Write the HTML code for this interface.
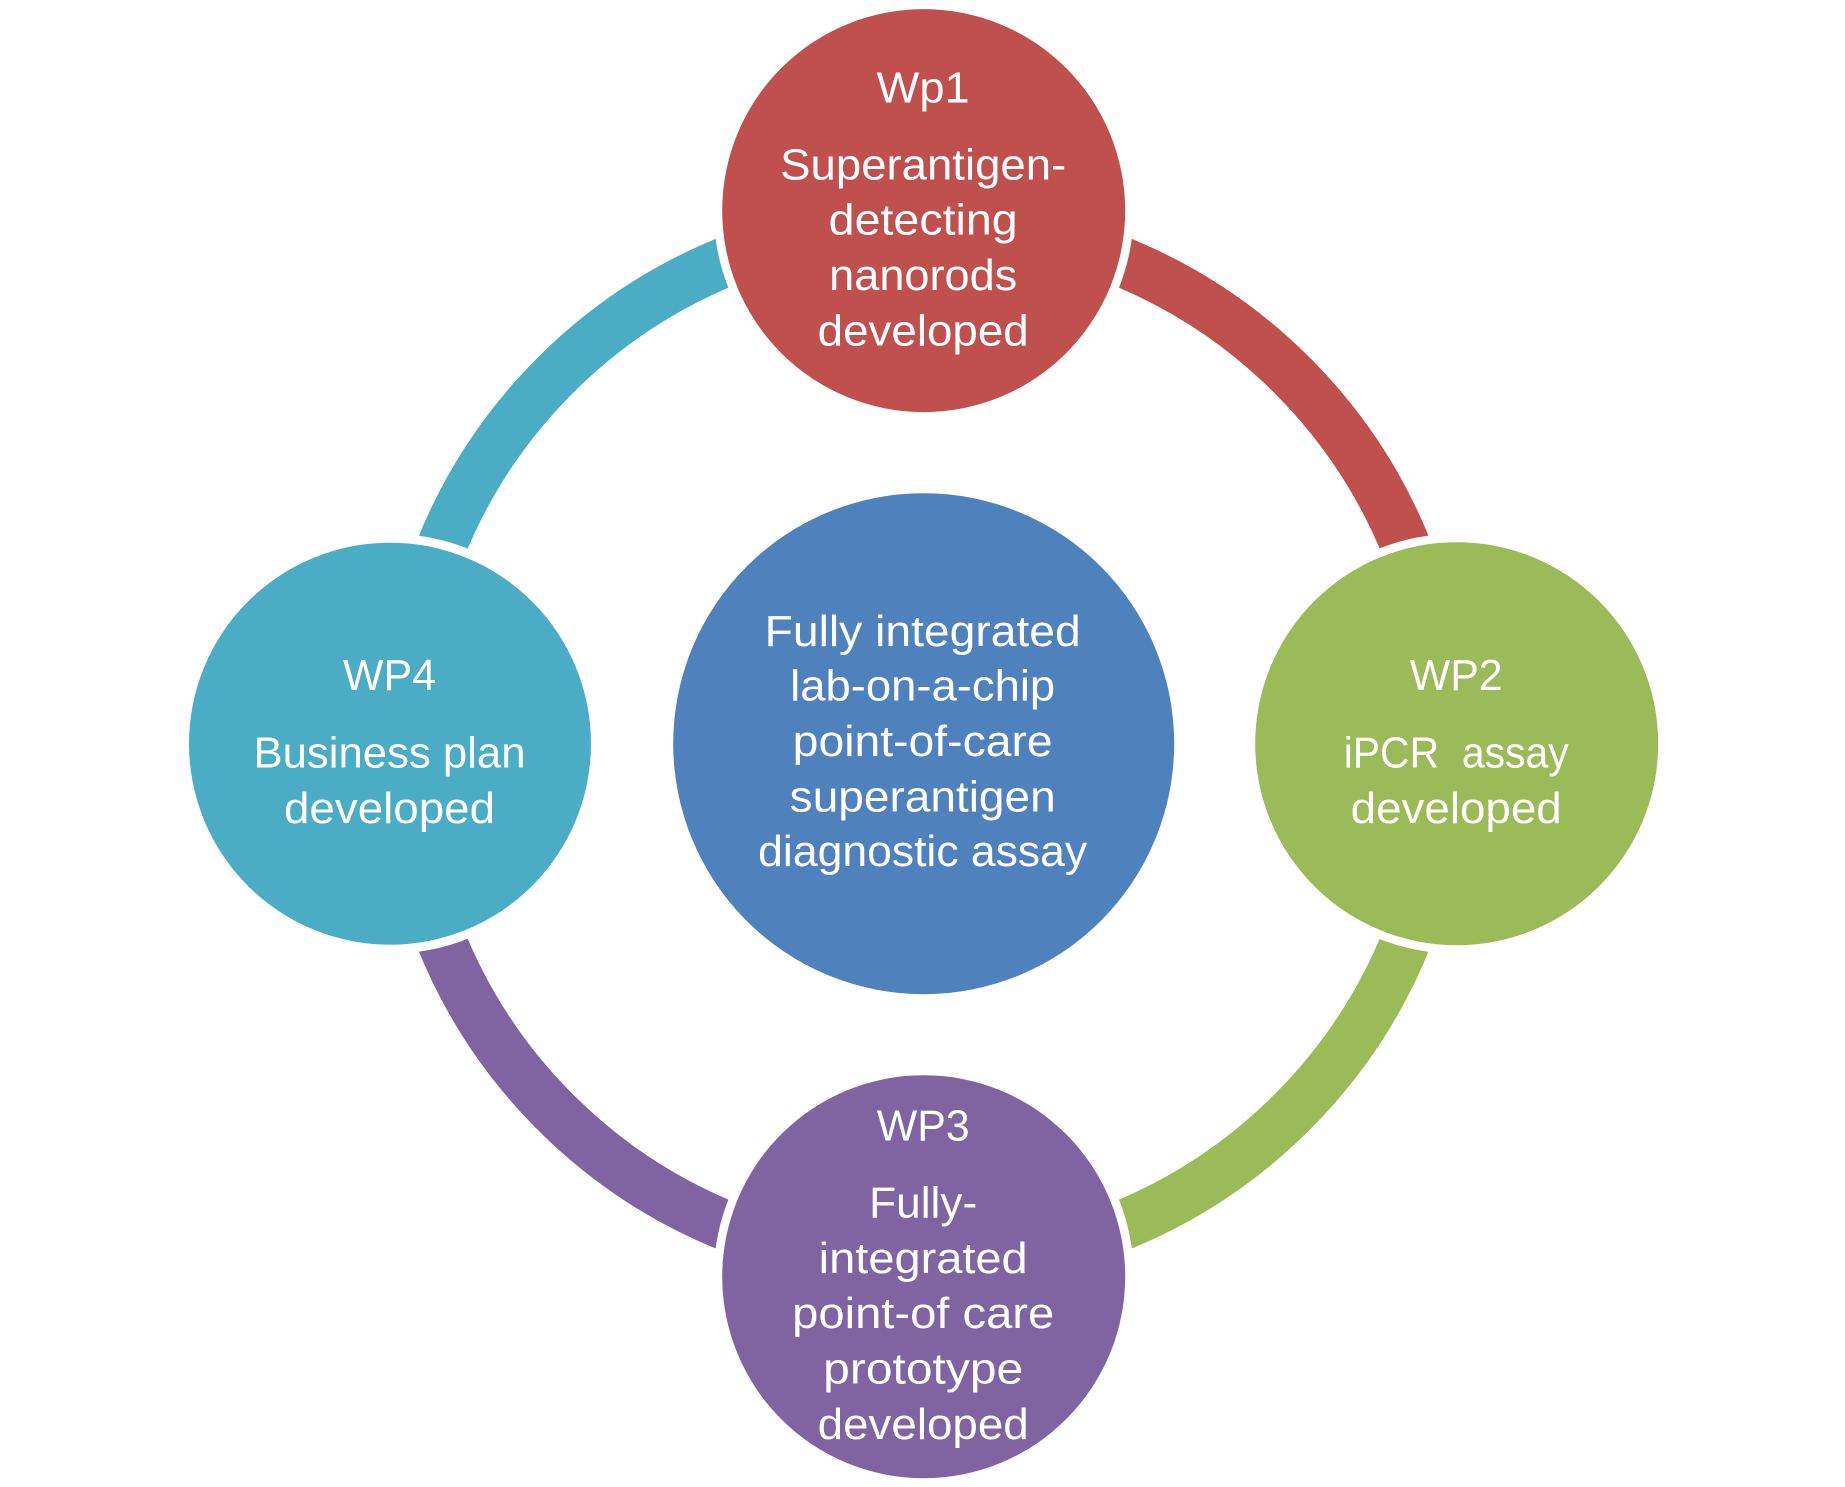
<!DOCTYPE html>
<html><head><meta charset="utf-8">
<style>html,body{margin:0;padding:0;background:#fff;width:1845px;height:1487px;overflow:hidden}svg{display:block}
text{font-family:"Liberation Sans",sans-serif;font-size:44px;fill:#fff;text-anchor:middle}</style></head>
<body>
<svg width="1845" height="1487" viewBox="0 0 1845 1487" xmlns="http://www.w3.org/2000/svg">
<rect width="1845" height="1487" fill="#fff"/>
<g fill="none" stroke-width="50">
<path d="M923.7 222.7A521 521 0 0 1 1444.7 743.7" stroke="#C0504D"/>
<path d="M1444.7 743.7A521 521 0 0 1 923.7 1264.7" stroke="#9BBB59"/>
<path d="M923.7 1264.7A521 521 0 0 1 402.7 743.7" stroke="#8064A2"/>
<path d="M402.7 743.7A521 521 0 0 1 923.7 222.7" stroke="#4BACC6"/>
</g>
<g fill="#fff">
<circle cx="923.7" cy="210.6" r="210"/><circle cx="1456.7" cy="743.7" r="210"/><circle cx="923.7" cy="1276.7" r="210"/><circle cx="390" cy="743.7" r="210"/>
</g>
<circle cx="923.7" cy="743.7" r="250.5" fill="#4F81BD"/>
<circle cx="923.7" cy="210.6" r="201.5" fill="#C0504D"/>
<circle cx="1456.7" cy="743.7" r="201.5" fill="#9BBB59"/>
<circle cx="923.7" cy="1276.7" r="201.5" fill="#8064A2"/>
<circle cx="390" cy="743.7" r="201" fill="#4BACC6"/>

<text x="923.2" y="102.5" textLength="93" lengthAdjust="spacingAndGlyphs">Wp1</text>
<text x="923.2" y="179.5" textLength="286" lengthAdjust="spacingAndGlyphs">Superantigen-</text>
<text x="923.2" y="234.5" textLength="189" lengthAdjust="spacingAndGlyphs">detecting</text>
<text x="923.2" y="290" textLength="188" lengthAdjust="spacingAndGlyphs">nanorods</text>
<text x="923.2" y="345.5" textLength="211" lengthAdjust="spacingAndGlyphs">developed</text>

<text x="1456.2" y="690" textLength="93" lengthAdjust="spacingAndGlyphs">WP2</text>
<text x="1456.2" y="767.5" textLength="225" lengthAdjust="spacingAndGlyphs" xml:space="preserve">iPCR  assay</text>
<text x="1456.2" y="823" textLength="211" lengthAdjust="spacingAndGlyphs">developed</text>

<text x="923.2" y="1140.5" textLength="93" lengthAdjust="spacingAndGlyphs">WP3</text>
<text x="923.2" y="1217.5" textLength="108" lengthAdjust="spacingAndGlyphs">Fully-</text>
<text x="923.2" y="1273" textLength="209" lengthAdjust="spacingAndGlyphs">integrated</text>
<text x="923.2" y="1328" textLength="262" lengthAdjust="spacingAndGlyphs">point-of care</text>
<text x="923.2" y="1383.5" textLength="200" lengthAdjust="spacingAndGlyphs">prototype</text>
<text x="923.2" y="1439" textLength="211" lengthAdjust="spacingAndGlyphs">developed</text>

<text x="389.5" y="690" textLength="93" lengthAdjust="spacingAndGlyphs">WP4</text>
<text x="389.5" y="767.5" textLength="272" lengthAdjust="spacingAndGlyphs">Business plan</text>
<text x="389.5" y="823" textLength="211" lengthAdjust="spacingAndGlyphs">developed</text>

<text x="922.7" y="646" textLength="316" lengthAdjust="spacingAndGlyphs">Fully integrated</text>
<text x="922.7" y="700.7" textLength="265" lengthAdjust="spacingAndGlyphs">lab-on-a-chip</text>
<text x="922.7" y="756" textLength="260" lengthAdjust="spacingAndGlyphs">point-of-care</text>
<text x="922.7" y="811.7" textLength="266" lengthAdjust="spacingAndGlyphs">superantigen</text>
<text x="922.7" y="866" textLength="329" lengthAdjust="spacingAndGlyphs">diagnostic assay</text>
</svg>
</body></html>
